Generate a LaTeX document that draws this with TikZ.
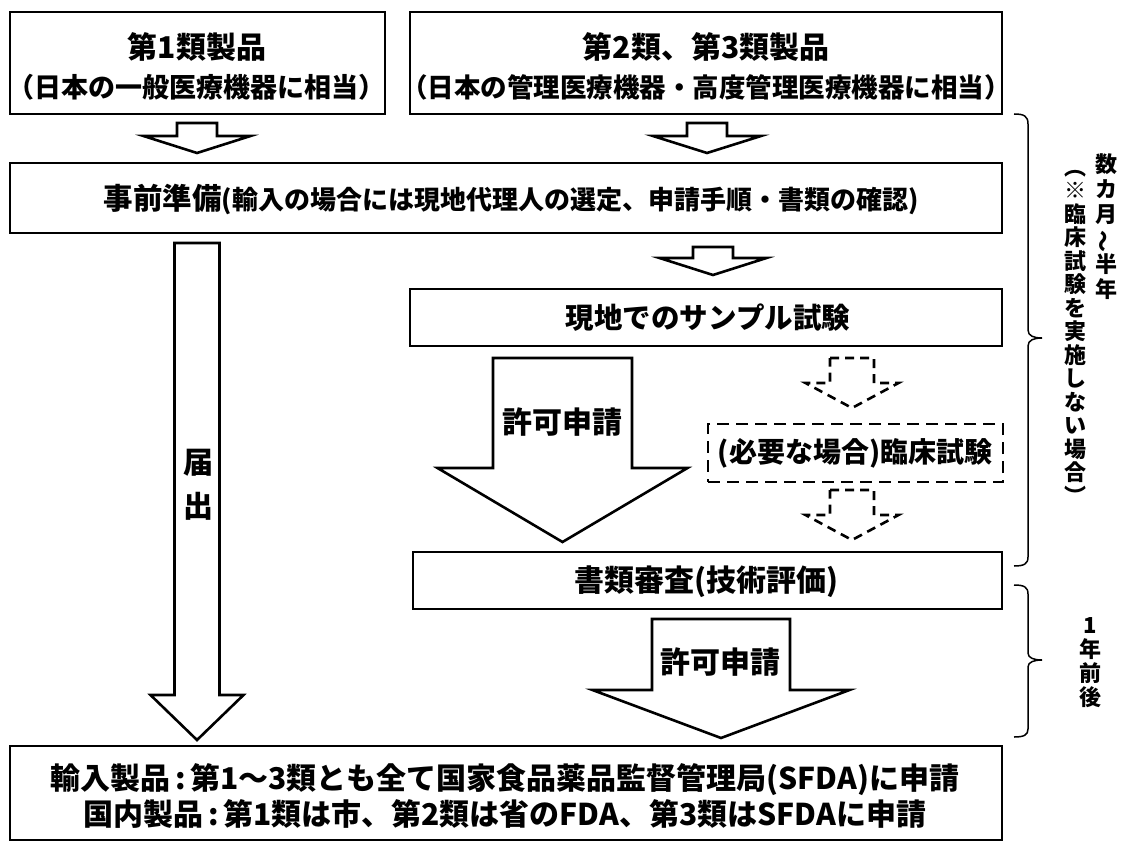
\documentclass[tikz,border=0pt]{standalone}
\usepackage{fontspec}
\setmainfont{Noto Sans CJK JP}
\newcommand\jf[1]{\fontsize{#1}{#1}\selectfont\bfseries}
\newcommand\ncolon{\hspace{0.15em}:\hspace{0.15em}}
\newcommand\blkarrow[7][]{%
  \draw[arrowline,#1] (#2-#6,#3) -- (#2+#6,#3) -- (#2+#6,#4) -- (#2+#7,#4)
    -- (#2,#5) -- (#2-#7,#4) -- (#2-#6,#4) -- cycle;}
\tikzset{
  box/.style={draw, line width=2.8pt, inner sep=0pt, outer sep=0pt},
  dbox/.style={box, dash pattern=on 12pt off 7pt},
  arrowline/.style={draw, line width=2.6pt, fill=white, line join=miter},
  darrow/.style={dash pattern=on 9pt off 6pt},
  lbl/.style={inner sep=0pt, align=center},
  brace/.style={draw, line width=1.5pt},
}
\begin{document}
\begin{tikzpicture}[x=1pt,y=-1pt]
\useasboundingbox (0,0) rectangle (1127,848);
\fill[white] (0,0) rectangle (1127,848);

% boxes
\node[box, minimum width=375pt, minimum height=102pt] (b1) at (197.5,63) {};
\node[box, minimum width=592pt, minimum height=102pt] (b2) at (706,63) {};
\node[box, minimum width=992pt, minimum height=70pt] (b3) at (506,198) {};
\node[box, minimum width=592pt, minimum height=57pt] (b4) at (706,317.5) {};
\node[dbox, minimum width=295pt, minimum height=58pt] (b5) at (855.5,453) {};
\node[box, minimum width=589pt, minimum height=57pt] (b6) at (707.5,580.5) {};
\node[box, minimum width=992pt, minimum height=94pt] (b7) at (506,793) {};

% block arrows
\blkarrow{197}{123}{136}{153}{20}{53.5}
\blkarrow{707}{123}{136}{153}{20}{54}
\blkarrow{713}{247}{258}{275}{20}{53.5}
\blkarrow{197}{243}{695}{740}{22.5}{46.5}
\blkarrow{562.5}{358}{468}{542}{69.5}{125}
\blkarrow[darrow]{852}{358}{383}{408}{22}{46.5}
\blkarrow[darrow]{852}{490}{515}{540}{22}{46.5}
\blkarrow{721}{619}{690}{738}{69}{128.5}

% texts
\node[lbl, font=\jf{30}] (t1) at (197,47) {第1類製品};
\node[lbl, font=\jf{27}] (t1s) at (197,87) {（日本の一般医療機器に相当）};
\node[lbl, font=\jf{30}] (t2) at (706,47) {第2類、第3類製品};
\node[lbl, font=\jf{26.5}] (t2s) at (706,87) {（日本の管理医療機器・高度管理医療機器に相当）};
\node[lbl] (t3) at (511,199) {{\jf{29.5}事前準備}{\jf{26}(輸入の場合には現地代理人の選定、申請手順・書類の確認)}};
\node[lbl, font=\jf{28.5}] (t4) at (708,318) {現地でのサンプル試験};
\node[lbl, font=\jf{28}] (t5) at (855,453) {(必要な場合)臨床試験};
\node[lbl, font=\jf{30}] (t6) at (706,582) {書類審査(技術評価)};
\node[lbl, font=\jf{30}] (t7a) at (505,780) {輸入製品\ncolon 第1～3類とも全て国家食品薬品監督管理局(SFDA)に申請};
\node[lbl, font=\jf{30}] (t7b) at (505,814) {国内製品\ncolon 第1類は市、第2類は省のFDA、第3類はSFDAに申請};
\node[lbl, font=\jf{30}] (k1) at (562,422) {許可申請};
\node[lbl, font=\jf{30}] (k2) at (720,662) {許可申請};
\node[lbl, font={\fontsize{30}{44}\selectfont\bfseries}] (tdd) at (198,485) {届\\出};

% braces
\draw[brace] (1014,114) .. controls (1024,114) and (1028,116) .. (1028,124)
  -- (1028,330) .. controls (1028,336) and (1034,338) .. (1042,338)
  .. controls (1034,338) and (1028,340) .. (1028,346)
  -- (1028,557) .. controls (1028,564) and (1024,566) .. (1014,566);
\draw[brace] (1014,585) .. controls (1024,585) and (1028,587) .. (1028,594)
  -- (1028,653) .. controls (1028,658) and (1034,660) .. (1042,660)
  .. controls (1034,660) and (1028,662) .. (1028,667)
  -- (1028,729) .. controls (1028,735) and (1024,737) .. (1014,737);

% vertical notes
\node[lbl, font={\fontsize{22}{25}\selectfont\bfseries}] (v1) at (1106,227)
  {数\\カ\\月\\\rotatebox[origin=c]{90}{～}\\半\\年};
\node[lbl, font={\fontsize{22}{23.5}\selectfont\bfseries}] (v2) at (1075,337)
  {︵\\※\\臨\\床\\試\\験\\を\\実\\施\\し\\な\\い\\場\\合\\︶};
\node[lbl, font={\fontsize{22}{24}\selectfont\bfseries}] (v3) at (1090,663)
  {1\\年\\前\\後};
\end{tikzpicture}
\end{document}
